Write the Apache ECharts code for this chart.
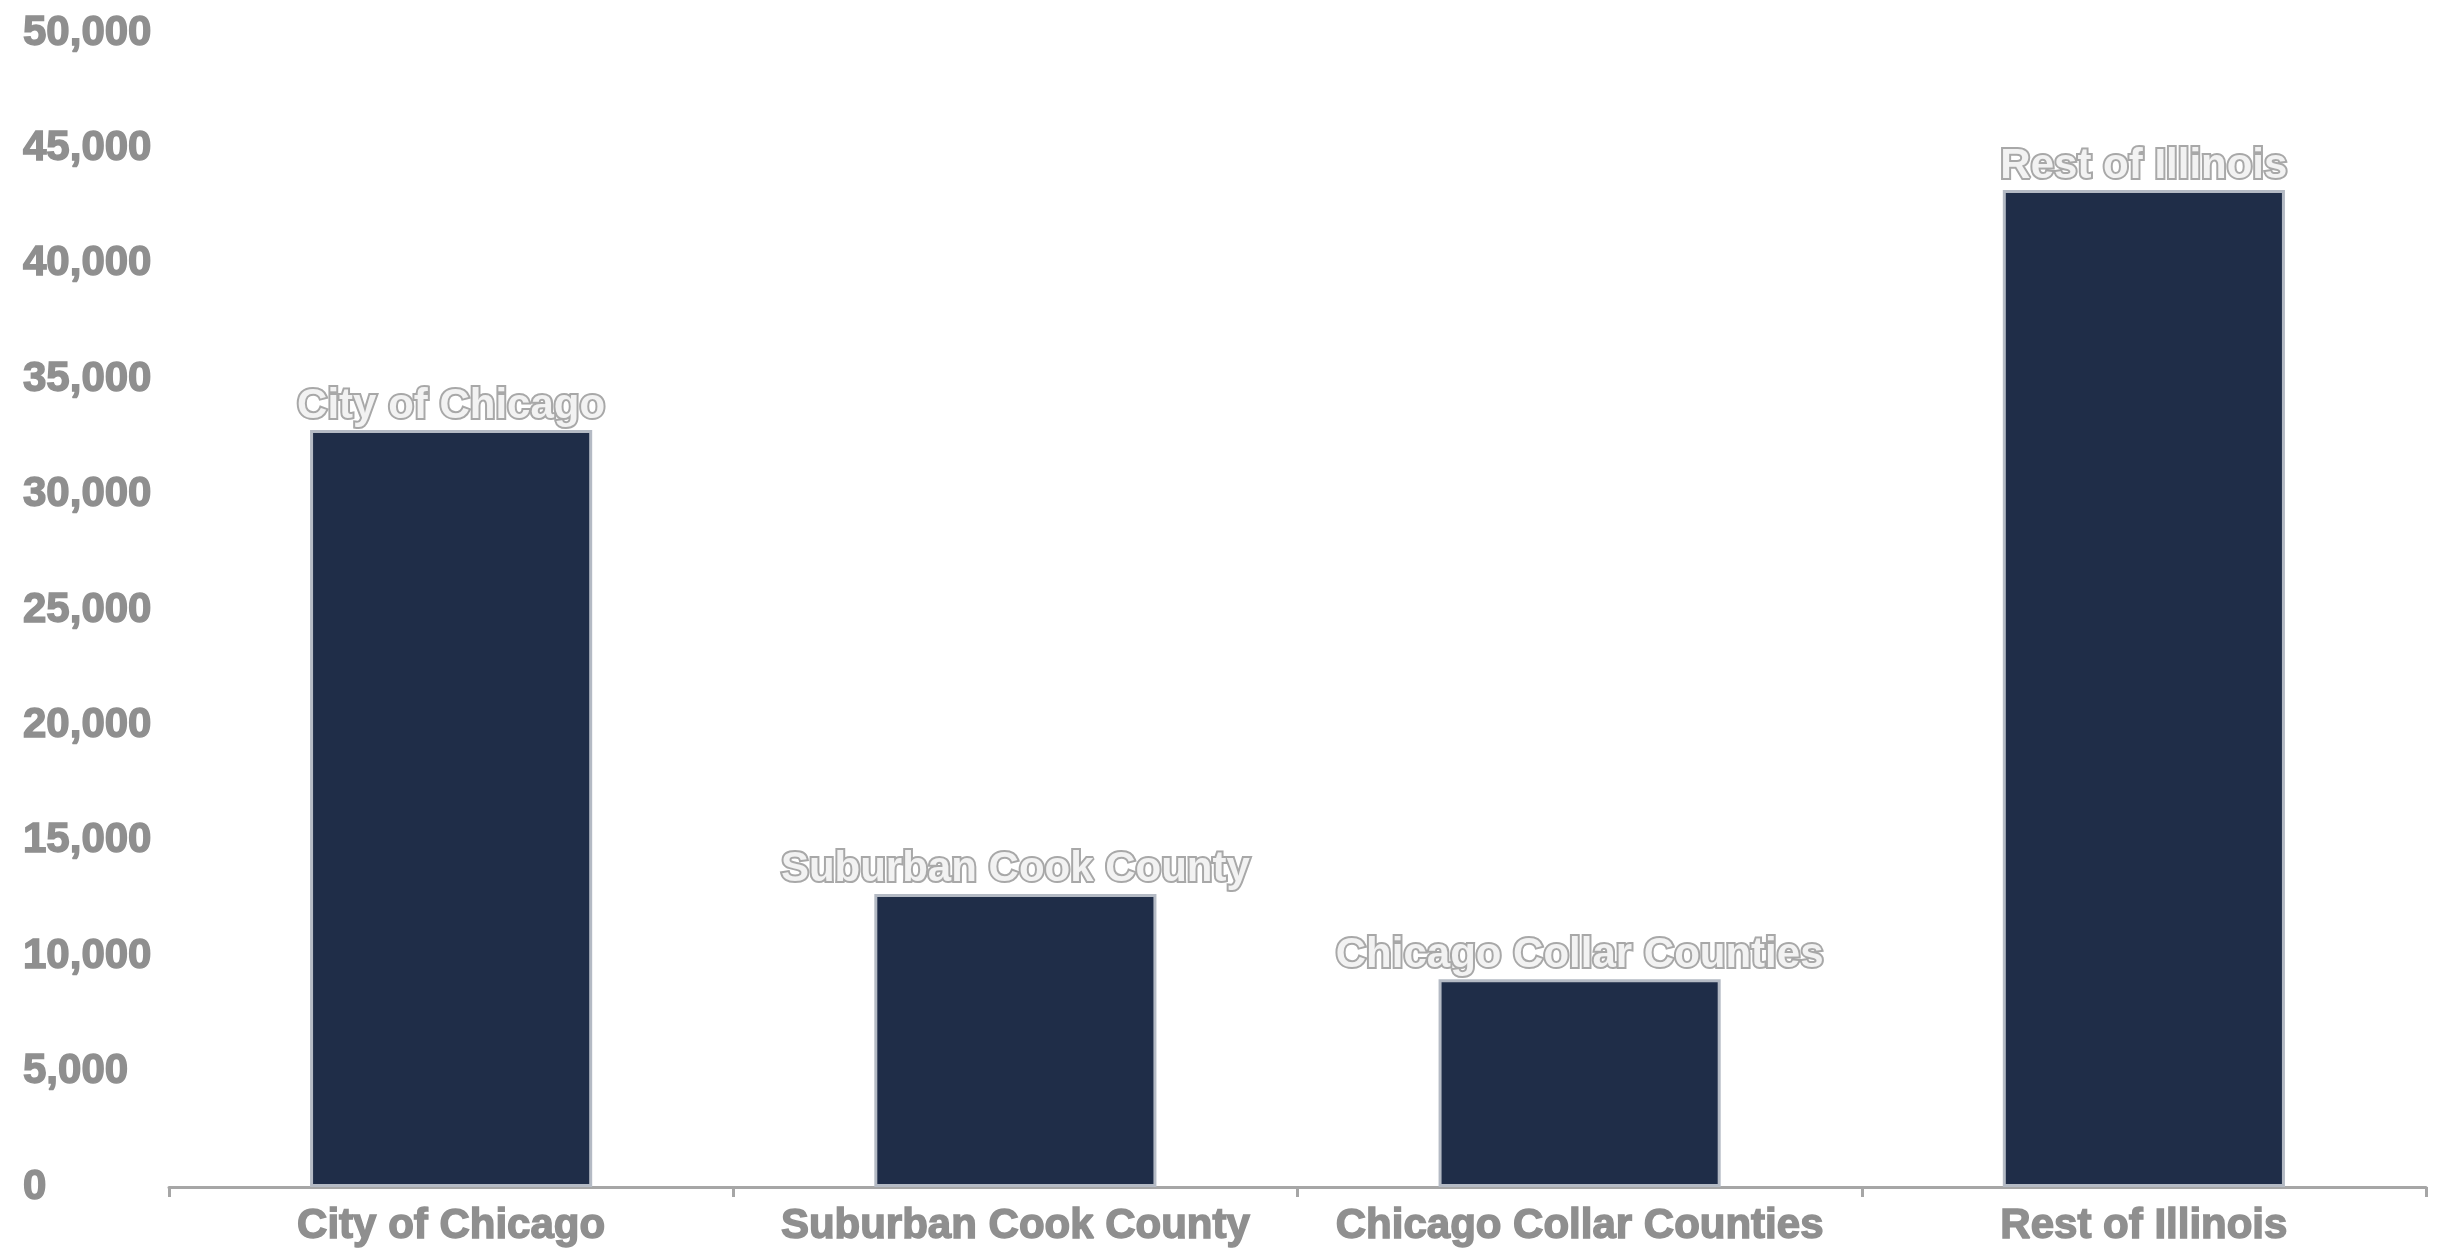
<!DOCTYPE html>
<html>
<head>
<meta charset="utf-8">
<script src="https://cdn.jsdelivr.net/npm/echarts@6/dist/echarts.min.js"></script>
<style>
  html, body { margin: 0; padding: 0; background: #fff; }
  #chart { width: 2451px; height: 1249px; }
</style>
</head>
<body>
<div id="chart"></div>
<script>
// categories and values
const regions = ['City of Chicago', 'Suburban Cook County', 'Chicago Collar Counties', 'Rest of Illinois'];
const counts = [32800, 12700, 9000, 43200];
const yTicks = [0, 5000, 10000, 15000, 20000, 25000, 30000, 35000, 40000, 45000, 50000];

const grey = '#8f8f8f';
const font = '"Liberation Sans", Arial, sans-serif';

const chart = echarts.init(document.getElementById('chart'));

chart.setOption({
  animation: false,
  grid: { left: 169, right: 25, top: 33, bottom: 62 },
  xAxis: {
    type: 'category',
    data: regions,
    axisLine: { lineStyle: { color: '#a6a6a6', width: 3 } },
    axisTick: { show: true, interval: 0, length: 10, lineStyle: { color: '#a6a6a6', width: 3 } },
    axisLabel: {
      interval: 0, color: grey, fontFamily: font, fontWeight: 'bold', fontSize: 42, margin: 18,
      textBorderColor: grey, textBorderWidth: 1.5
    }
  },
  yAxis: {
    type: 'value',
    min: yTicks[0],
    max: yTicks[yTicks.length - 1],
    interval: yTicks[1] - yTicks[0],
    axisLine: { show: false },
    axisTick: { show: false },
    splitLine: { show: false },
    axisLabel: {
      color: grey, fontFamily: font, fontWeight: 'bold', fontSize: 42,
      align: 'left', margin: 146, padding: [10, 0, 0, 0],
      textBorderColor: grey, textBorderWidth: 1.5,
      formatter: v => v.toLocaleString('en-US')
    }
  },
  series: [{
    type: 'bar',
    data: counts,
    barWidth: '50%',
    itemStyle: { color: '#1f2d48', borderColor: '#b4bac4', borderWidth: 3 },
    label: {
      show: true,
      position: 'top',
      distance: 3,
      formatter: p => p.name,
      fontFamily: font, fontWeight: 'bold', fontSize: 42,
      color: '#f2f2f2',
      textBorderColor: '#a8a8a8',
      textBorderWidth: 4
    }
  }]
});
</script>
</body>
</html>
